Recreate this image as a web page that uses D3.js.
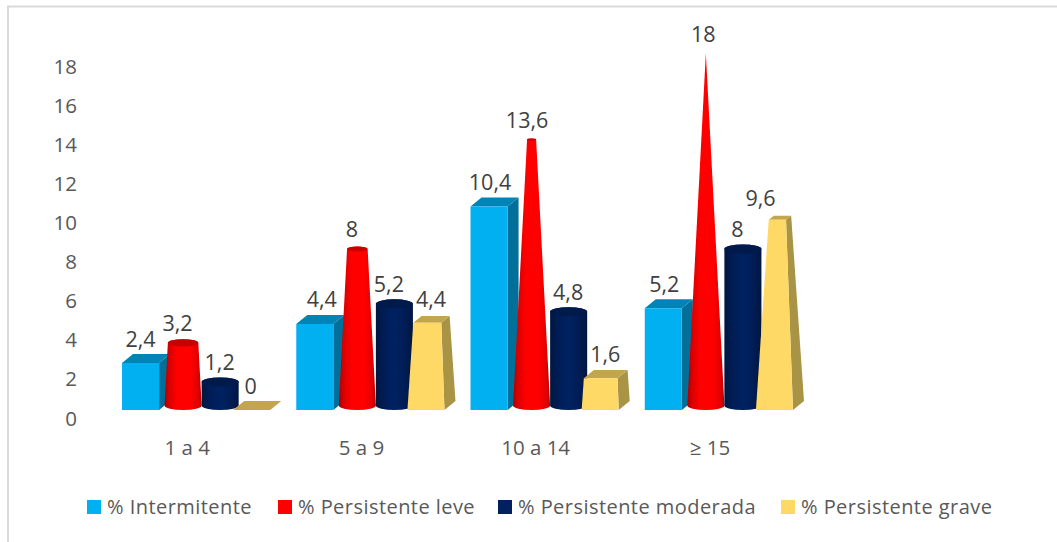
<!DOCTYPE html>
<html>
<head>
<meta charset="utf-8">
<script src="https://d3js.org/d3.v7.min.js"></script>
<style>
html,body{margin:0;padding:0;background:#fff}
svg{display:block}
text{font-family:"Open Sans",sans-serif}
</style>
</head>
<body>
<svg id="chart" width="1057" height="542"></svg>
<script>
// Asthma severity by age group
const categories = ["1 a 4", "5 a 9", "10 a 14", "≥ 15"];
const seriesNames = ["% Intermitente", "% Persistente leve", "% Persistente moderada", "% Persistente grave"];
const intermitente = [2.4, 4.4, 10.4, 5.2];
const leve = [3.2, 8, 13.6, 18];
const moderada = [1.2, 5.2, 4.8, 8];
const grave = [0, 4.4, 1.6, 9.6];
const yTicks = [0, 2, 4, 6, 8, 10, 12, 14, 16, 18];

const seriesValues = [intermitente, leve, moderada, grave];
const shapes = ["box", "cone", "cylinder", "pyramid"];
const fmt = v => String(v).replace(".", ",");

const svg = d3.select("#chart");
const W = 1057, H = 542;

// Chart frame: only the top and left edges fall inside the canvas
svg.append("path").attr("d", `M8,${H}V6.5H${W}`).attr("fill", "none")
  .attr("stroke", "#d9d9d9").attr("stroke-width", 2);

const y = d3.scaleLinear().domain([0, 18]).range([410, 58]);
const x0 = d3.scaleBand().domain(categories).range([109, 806])
  .paddingInner(26 / 174).paddingOuter(13 / 174);
const x1 = d3.scaleBand().domain(seriesNames).range([0, x0.bandwidth()]);

const depthX = 11, depthY = 9;
const defs = svg.append("defs");

function sideGradient(id, stops) {
  const g = defs.append("linearGradient").attr("id", id)
    .attr("x1", 0).attr("x2", 1).attr("y1", 0).attr("y2", 0);
  stops.forEach(([o, c]) => g.append("stop").attr("offset", o).attr("stop-color", c));
}
sideGradient("redRound", [[0, "#a80000"], [.12, "#d80000"], [.35, "#ff0000"], [.7, "#ff0000"], [.9, "#e00000"], [1, "#b80000"]]);
sideGradient("navyRound", [[0, "#001640"], [.2, "#001c54"], [.5, "#002262"], [.8, "#001c54"], [1, "#001640"]]);

const palette = {
  box: {front: "#00b0f0", top: "#0084b5", side: "#00709a"},
  pyramid: {front: "#ffd966", top: "#c2a54e", side: "#a99345"}
};

function poly(g, pts, fill) {
  g.append("polygon").attr("points", pts.map(p => p.join(",")).join(" ")).attr("fill", fill);
}

function drawBox(g, x, w, v, c) {
  const b = y(0), t = y(v);
  poly(g, [[x + w, b], [x + w + depthX, b - depthY], [x + w + depthX, t - depthY], [x + w, t]], c.side);
  poly(g, [[x, t], [x + w, t], [x + w + depthX, t - depthY], [x + depthX, t - depthY]], c.top);
  poly(g, [[x, b], [x + w, b], [x + w, t], [x, t]], c.front);
}

// Square pyramid with its apex at 18, cut off at the value
function drawPyramid(g, x, w, v, c) {
  const b = y(0);
  const apexX = x + w / 2 + depthX / 2;
  const apexY = b - depthY / 2 - (y(0) - y(18));
  const k = v / 18;
  const lift = ([px, py]) => [px + (apexX - px) * k, py + (apexY - py) * k];
  const fl = [x, b], fr = [x + w, b], br = [x + w + depthX, b - depthY], bl = [x + depthX, b - depthY];
  const tfl = lift(fl), tfr = lift(fr), tbr = lift(br), tbl = lift(bl);
  if (v > 0) poly(g, [fr, br, tbr, tfr], c.side);
  poly(g, [tfl, tfr, tbr, tbl], c.top);
  if (v > 0) poly(g, [fl, fr, tfr, tfl], c.front);
}

// Round solids: the cone narrows to a point at 18, the cylinder keeps its width
function drawRound(g, x, w, v, gradient, topFill, narrowing) {
  const cx = x + w / 2 + depthX / 2;
  const cyBase = y(0) - depthY / 2;
  const cyTop = y(v) - depthY / 2;
  const rx = w / 2, ry = depthY / 2;
  const f = narrowing ? 1 - v / 18 : 1;
  const rxT = rx * f, ryT = ry * f;
  g.append("path")
    .attr("d", `M${cx - rx},${cyBase}A${rx},${ry} 0 0 0 ${cx + rx},${cyBase}L${cx + rxT},${cyTop}` +
      (f > 0 ? `A${rxT},${ryT} 0 0 0 ${cx - rxT},${cyTop}` : "") + "Z")
    .attr("fill", `url(#${gradient})`);
  if (f > 0) {
    g.append("ellipse").attr("cx", cx).attr("cy", cyTop).attr("rx", rxT).attr("ry", ryT).attr("fill", topFill);
  }
}

// Bars, drawn series by series inside each group so later solids overlap earlier ones
categories.forEach((cat, ci) => {
  const group = svg.append("g").attr("class", "group");
  seriesNames.forEach((name, si) => {
    const v = seriesValues[si][ci];
    const x = x0(cat) + x1(name), w = x1.bandwidth();
    const g = group.append("g").attr("class", "mark");
    if (shapes[si] === "box") drawBox(g, x, w, v, palette.box);
    if (shapes[si] === "pyramid") drawPyramid(g, x, w, v, palette.pyramid);
    if (shapes[si] === "cone") drawRound(g, x, w, v, "redRound", "#c80000", true);
    if (shapes[si] === "cylinder") drawRound(g, x, w, v, "navyRound", "#001a4c", false);
  });
});

// Value labels, with the hand-placed sideways shifts that keep them off neighbouring solids
const labelShift = [
  [0, 0, 5, -1],
  [7, 0, 0, 5],
  [1, 1, 5, 5],
  [1, 3, 0, -14]
];
categories.forEach((cat, ci) => {
  seriesNames.forEach((name, si) => {
    const v = seriesValues[si][ci];
    svg.append("text")
      .attr("x", x0(cat) + x1(name) + x1.bandwidth() / 2 + labelShift[ci][si])
      .attr("y", y(v) - 24)
      .attr("dy", "0.35em")
      .attr("text-anchor", "middle")
      .attr("font-size", 21.5)
      .attr("fill", "#404040")
      .text(fmt(v));
  });
});

// Value axis without a line; its labels sit just under the front edge of the bars
const yAxis = d3.axisLeft(y).tickValues(yTicks).tickSize(0).tickPadding(0).tickFormat(d3.format("d"));
const ya = svg.append("g").attr("transform", "translate(77,8.5)").call(yAxis);
ya.select(".domain").remove();
ya.selectAll("text").attr("font-size", 20.5).attr("fill", "#595959")
  .style("font-family", '"Open Sans",sans-serif');

// Category labels
const xAxis = d3.axisBottom(x0).tickSize(0).tickPadding(0);
const xa = svg.append("g").attr("transform", "translate(-9,440)").call(xAxis);
xa.select(".domain").remove();
xa.selectAll("text").attr("font-size", 20.5).attr("fill", "#595959")
  .style("font-family", '"Open Sans",sans-serif');

// Legend
const legendColors = ["#00b0f0", "#ff0000", "#002060", "#ffd966"];
const legendX = [87, 278, 498, 781];
const legend = svg.append("g");
seriesNames.forEach((name, i) => {
  legend.append("rect").attr("x", legendX[i]).attr("y", 500).attr("width", 14).attr("height", 14)
    .attr("fill", legendColors[i]);
  legend.append("text").attr("x", legendX[i] + 20).attr("y", 507).attr("dy", "0.35em")
    .attr("font-size", 20).attr("letter-spacing", 0.45).attr("fill", "#595959").text(name);
});
</script>
</body>
</html>
